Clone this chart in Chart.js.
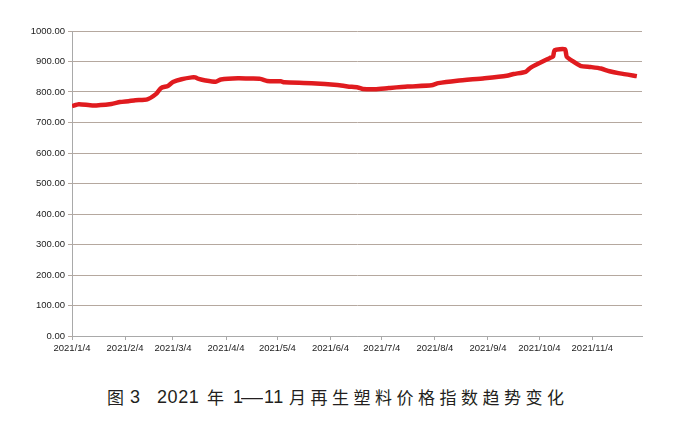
<!DOCTYPE html>
<html>
<head>
<meta charset="utf-8">
<script src="https://cdn.jsdelivr.net/npm/chart.js@4"></script>
<style>
    body { margin: 0; background: #fff; }
    #wrap { position: absolute; left: 0; top: 0; width: 686px; height: 365px; }
    #caption span {
        position: absolute; top: 386px; height: 22px; line-height: 22px;
        font-family: "Noto Sans CJK SC", sans-serif; font-size: 17px;
        color: #231f20; white-space: pre;
    }
    #caption span.num { font-family: "Liberation Sans", sans-serif; font-size: 18px; }
</style>
</head>
<body>
<div id="wrap"><canvas id="chart"></canvas></div>
<div id="caption">
    <span style="left:107px">图</span>
    <span class="num" style="left:130px">3</span>
    <span class="num" style="left:157px;letter-spacing:0.6px">2021</span>
    <span style="left:207px">年</span>
    <span class="num" style="left:233px">1</span>
    <span class="num" style="left:241px;transform:scaleX(1.22);transform-origin:left">—</span>
    <span class="num" style="left:264px;letter-spacing:0.5px">11</span>
    <span style="left:289px;letter-spacing:4.5px">月再生塑料价格指数趋势变化</span>
</div>
<script>
// 再生塑料价格指数
var dates = ['2021/1/4', '2021/1/8', '2021/1/16', '2021/1/27', '2021/2/1', '2021/2/6', '2021/2/10',
    '2021/2/17', '2021/2/22', '2021/2/25', '2021/3/1', '2021/3/4', '2021/3/9', '2021/3/15', '2021/3/17',
    '2021/3/19', '2021/3/23', '2021/3/29', '2021/4/1', '2021/4/11', '2021/4/19', '2021/4/24', '2021/4/28',
    '2021/5/6', '2021/5/8', '2021/5/24', '2021/6/8', '2021/6/14', '2021/6/20', '2021/6/23', '2021/6/30',
    '2021/7/8', '2021/7/19', '2021/8/2', '2021/8/6', '2021/8/17', '2021/9/2', '2021/9/15', '2021/9/19',
    '2021/9/26', '2021/9/29', '2021/10/10', '2021/10/12', '2021/10/13', '2021/10/19', '2021/10/20',
    '2021/10/23', '2021/10/28', '2021/11/3', '2021/11/9', '2021/11/14', '2021/11/20', '2021/11/30'];
var values = [754, 760, 756, 761, 767, 770, 773,
    776, 793, 813, 820, 833, 842, 848, 848,
    843, 838, 834, 841, 845, 844, 843, 836,
    835, 832, 829, 823, 818, 815, 810, 809,
    813, 818, 822, 829, 837, 845, 853, 859,
    866, 880, 911, 916, 937, 940, 916,
    903, 886, 882, 877, 868, 861, 852];
var tickLabels = ['2021/1/4', '2021/2/4', '2021/3/4', '2021/4/4', '2021/5/4', '2021/6/4',
    '2021/7/4', '2021/8/4', '2021/9/4', '2021/10/4', '2021/11/4'];

function dayOffset(s) {
    var p = s.split('/');
    return (Date.UTC(+p[0], +p[1] - 1, +p[2]) - Date.UTC(2021, 0, 4)) / 86400000;
}

var points = dates.map(function (d, i) { return { x: dayOffset(d), y: values[i] }; });
var tickPos = tickLabels.map(dayOffset);

new Chart(document.getElementById('chart'), {
    type: 'line',
    data: {
        datasets: [{
            label: '价格指数',
            data: points,
            borderColor: '#e01b1f',
            borderWidth: 4.5,
            pointRadius: 0,
            tension: 0.2
        }]
    },
    options: {
        responsive: true,
        maintainAspectRatio: false,
        animation: false,
        layout: { padding: { top: 31, right: 44, bottom: 5, left: 0 } },
        plugins: { legend: { display: false }, tooltip: { enabled: false } },
        scales: {
            x: {
                type: 'linear',
                min: 0,
                max: 333,
                afterBuildTicks: function (scale) {
                    scale.ticks = tickPos.map(function (v) { return { value: v }; });
                },
                afterFit: function (scale) { scale.height = 24; },
                ticks: {
                    autoSkip: false,
                    maxRotation: 0,
                    padding: 3,
                    color: '#222',
                    font: { family: 'Liberation Sans', size: 9.5 },
                    callback: function (v) {
                        var i = tickPos.indexOf(v);
                        return i >= 0 ? tickLabels[i] : '';
                    }
                },
                grid: { drawOnChartArea: false, drawTicks: true, tickLength: 4, color: '#a9a9a9' },
                border: { color: '#a9a9a9' }
            },
            y: {
                min: 0,
                max: 1000,
                afterFit: function (scale) { scale.width = 72; },
                ticks: {
                    stepSize: 100,
                    padding: 3,
                    color: '#222',
                    font: { family: 'Liberation Sans', size: 9.5 },
                    callback: function (v) { return v.toFixed(2); }
                },
                grid: { color: '#b5a89f', tickLength: 4 },
                border: { color: '#a9a9a9' }
            }
        }
    }
});
</script>
</body>
</html>
